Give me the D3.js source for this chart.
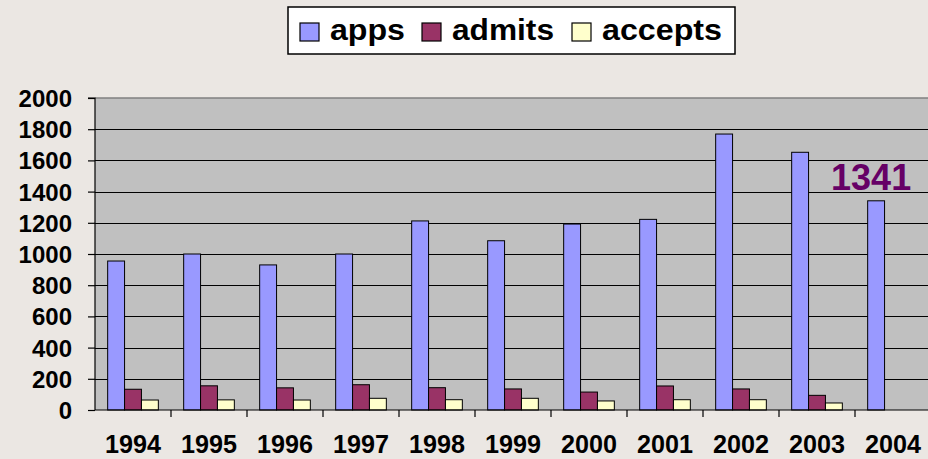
<!DOCTYPE html>
<html>
<head>
<meta charset="utf-8">
<script src="https://cdn.jsdelivr.net/npm/d3@7"></script>
<style>
  html, body { margin: 0; padding: 0; background: #ebe7e3; }
  svg { display: block; }
  text { font-family: "Liberation Sans", Arial, sans-serif; font-weight: bold; }
</style>
</head>
<body>
<svg id="chart" width="928" height="459"></svg>
<script>
const years = ["1994","1995","1996","1997","1998","1999","2000","2001","2002","2003","2004"];
const apps = [955, 1000, 930, 1000, 1212, 1085, 1192, 1222, 1769, 1652, 1341];
const admits = [133, 155, 142, 162, 143, 135, 115, 154, 135, 94, null];
const accepts = [64, 65, 64, 75, 66, 75, 58, 66, 66, 45, null];
const seriesNames = ["apps", "admits", "accepts"];
const seriesColors = ["#9999ff", "#993366", "#ffffcc"];
const yTicks = [0, 200, 400, 600, 800, 1000, 1200, 1400, 1600, 1800, 2000];
const annotationYear = "2004";
const annotationText = "1341";

const series = [apps, admits, accepts];
const svg = d3.select("#chart");
const W = 928, H = 459;

svg.append("rect").attr("width", W).attr("height", H).attr("fill", "#ebe7e3");

const plot = { left: 95, right: 931, top: 98, bottom: 410 };

const x = d3.scaleBand().domain(years).range([plot.left, plot.right]).padding(0);
const xs = d3.scaleBand().domain(seriesNames).range([0, x.bandwidth()]).paddingInner(0).paddingOuter(0.75);
const y = d3.scaleLinear().domain([0, 2000]).range([plot.bottom, plot.top]);

// plot area
svg.append("rect")
  .attr("x", plot.left).attr("y", plot.top)
  .attr("width", plot.right - plot.left).attr("height", plot.bottom - plot.top)
  .attr("fill", "#c0c0c0");

// gridlines
svg.append("g").selectAll("line")
  .data(yTicks.filter(t => t > 0 && t < 2000))
  .join("line")
  .attr("x1", plot.left).attr("x2", plot.right)
  .attr("y1", d => Math.round(y(d)) + 0.5).attr("y2", d => Math.round(y(d)) + 0.5)
  .attr("stroke", "#000").attr("stroke-width", 1);
// top border
svg.append("line")
  .attr("x1", plot.left).attr("x2", plot.right)
  .attr("y1", y(2000)).attr("y2", y(2000))
  .attr("stroke", "#808080").attr("stroke-width", 1.5);

// bars
series.forEach((vals, si) => {
  svg.append("g").selectAll("rect")
    .data(years.map((yr, i) => ({ yr, v: vals[i] })).filter(d => d.v != null))
    .join("rect")
    .attr("x", d => x(d.yr) + xs(seriesNames[si]))
    .attr("y", d => y(d.v))
    .attr("width", xs.bandwidth())
    .attr("height", d => y(0) - y(d.v))
    .attr("fill", seriesColors[si])
    .attr("stroke", "#000")
    .attr("stroke-width", 1);
});

// y axis
const yAxis = d3.axisLeft(y).tickValues(yTicks).tickSize(7).tickPadding(16).tickFormat(d3.format("d"));
const gy = svg.append("g").attr("transform", `translate(${plot.left},0)`).call(yAxis);
gy.select(".domain").attr("stroke", "#000").attr("stroke-width", 1.2).attr("d", `M-7,${y(2000)}H0V${y(0)}`);
gy.selectAll(".tick line").attr("stroke", "#000").attr("stroke-width", 1.2);
gy.selectAll(".tick text")
  .attr("fill", "#000")
  .style("font-size", "24px")
  .style("font-weight", "bold")
  .attr("dy", "0.35em");

// x axis
const xAxis = d3.axisBottom(x).tickSize(0).tickPadding(25);
const gx = svg.append("g").attr("transform", `translate(0,${plot.bottom})`).call(xAxis);
gx.select(".domain").attr("stroke", "#000").attr("stroke-width", 1.2).attr("d", `M${plot.left},0H${plot.right}`);
gx.selectAll(".tick text")
  .attr("fill", "#000")
  .style("font-size", "25px")
  .style("font-weight", "bold")
  .attr("textLength", 56)
  .attr("lengthAdjust", "spacingAndGlyphs");
// category boundary ticks
svg.append("g").selectAll("line")
  .data(years.slice(1))
  .join("line")
  .attr("x1", d => x(d)).attr("x2", d => x(d))
  .attr("y1", plot.bottom).attr("y2", plot.bottom + 7)
  .attr("stroke", "#000").attr("stroke-width", 1.2);

// annotation
const ai = years.indexOf(annotationYear);
svg.append("text")
  .attr("x", x(annotationYear) + xs("apps") + xs.bandwidth() / 2 - 5)
  .attr("y", y(apps[ai]) - 11)
  .attr("text-anchor", "middle")
  .attr("fill", "#660066")
  .style("font-size", "36px")
  .text(annotationText);

// legend
const legend = svg.append("g");
legend.append("rect")
  .attr("x", 288).attr("y", 7).attr("width", 447).attr("height", 47)
  .attr("fill", "#fff").attr("stroke", "#000").attr("stroke-width", 1.5);
const legendX = [300, 422, 572];
const legendW = [75, 102, 120];
seriesNames.forEach((name, i) => {
  legend.append("rect")
    .attr("x", legendX[i]).attr("y", 23).attr("width", 19).attr("height", 18)
    .attr("fill", seriesColors[i]).attr("stroke", "#000").attr("stroke-width", 1.2);
  legend.append("text")
    .attr("x", legendX[i] + 30).attr("y", 40)
    .style("font-size", "30px")
    .attr("fill", "#000")
    .attr("textLength", legendW[i])
    .attr("lengthAdjust", "spacingAndGlyphs")
    .text(name);
});
</script>
</body>
</html>
